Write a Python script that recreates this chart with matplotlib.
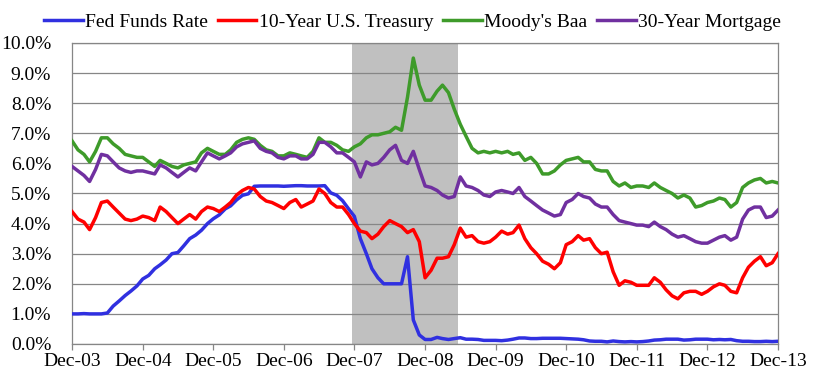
import matplotlib
matplotlib.use("Agg")
import matplotlib.pyplot as plt
import matplotlib.ticker as mticker
import pandas as pd

# Monthly dates Dec-2003 .. Dec-2013
dates = pd.date_range("2003-12-01", "2013-12-01", freq="MS")

fed_funds = [1.00,
    1.00, 1.01, 1.00, 1.00, 1.00, 1.03, 1.26, 1.43, 1.61, 1.76, 1.93, 2.16,
    2.28, 2.50, 2.63, 2.79, 3.00, 3.04, 3.26, 3.50, 3.62, 3.78, 4.00, 4.16,
    4.29, 4.49, 4.59, 4.79, 4.94, 4.99, 5.24, 5.25, 5.25, 5.25, 5.25, 5.24,
    5.25, 5.26, 5.26, 5.25, 5.25, 5.25, 5.26, 5.02, 4.94, 4.76, 4.49, 4.24,
    3.50, 3.00, 2.50, 2.20, 2.00, 2.00, 2.00, 2.00, 2.90, 0.80, 0.30, 0.15,
    0.15, 0.22, 0.18, 0.15, 0.18, 0.21, 0.16, 0.16, 0.15, 0.12, 0.12, 0.12,
    0.11, 0.13, 0.16, 0.20, 0.20, 0.18, 0.18, 0.19, 0.19, 0.19, 0.19, 0.18,
    0.17, 0.16, 0.14, 0.10, 0.09, 0.09, 0.07, 0.10, 0.08, 0.07, 0.08, 0.07,
    0.08, 0.10, 0.13, 0.14, 0.16, 0.16, 0.16, 0.13, 0.14, 0.16, 0.16, 0.16,
    0.14, 0.15, 0.14, 0.15, 0.11, 0.09, 0.09, 0.08, 0.08, 0.09, 0.08, 0.09]

treasury_10y = [4.40,
    4.15, 4.05, 3.80, 4.20, 4.70, 4.75, 4.55, 4.35, 4.15, 4.10, 4.15, 4.25,
    4.20, 4.10, 4.55, 4.40, 4.20, 4.00, 4.15, 4.30, 4.15, 4.40, 4.55, 4.50,
    4.40, 4.55, 4.70, 4.95, 5.10, 5.20, 5.15, 4.90, 4.75, 4.70, 4.60, 4.50,
    4.70, 4.80, 4.55, 4.65, 4.75, 5.15, 5.00, 4.70, 4.55, 4.55, 4.30, 4.00,
    3.75, 3.70, 3.50, 3.65, 3.90, 4.10, 4.00, 3.90, 3.70, 3.80, 3.40, 2.20,
    2.45, 2.85, 2.85, 2.90, 3.30, 3.85, 3.55, 3.60, 3.40, 3.35, 3.40, 3.55,
    3.75, 3.65, 3.70, 3.95, 3.50, 3.20, 3.00, 2.75, 2.65, 2.50, 2.70, 3.30,
    3.40, 3.60, 3.45, 3.50, 3.20, 3.00, 3.05, 2.40, 1.95, 2.10, 2.05, 1.95,
    1.95, 1.95, 2.20, 2.05, 1.80, 1.60, 1.50, 1.70, 1.75, 1.75, 1.65, 1.75,
    1.90, 2.00, 1.95, 1.75, 1.70, 2.20, 2.55, 2.75, 2.90, 2.60, 2.70, 3.00]

moodys_baa = [6.75,
    6.45, 6.30, 6.05, 6.40, 6.85, 6.85, 6.65, 6.50, 6.30, 6.25, 6.20, 6.20,
    6.05, 5.90, 6.10, 6.00, 5.90, 5.85, 5.95, 6.00, 6.05, 6.35, 6.50, 6.40,
    6.30, 6.30, 6.45, 6.70, 6.80, 6.85, 6.80, 6.60, 6.45, 6.40, 6.25, 6.25,
    6.35, 6.30, 6.25, 6.20, 6.40, 6.85, 6.70, 6.70, 6.60, 6.45, 6.40, 6.55,
    6.65, 6.85, 6.95, 6.95, 7.00, 7.05, 7.20, 7.10, 8.20, 9.50, 8.60, 8.10,
    8.10, 8.40, 8.60, 8.35, 7.80, 7.30, 6.90, 6.50, 6.35, 6.40, 6.35, 6.40,
    6.35, 6.40, 6.30, 6.35, 6.10, 6.20, 6.00, 5.65, 5.65, 5.75, 5.95, 6.10,
    6.15, 6.20, 6.05, 6.05, 5.80, 5.75, 5.75, 5.40, 5.25, 5.35, 5.20, 5.25,
    5.25, 5.20, 5.35, 5.20, 5.10, 5.00, 4.85, 4.95, 4.85, 4.55, 4.60, 4.70,
    4.75, 4.85, 4.80, 4.55, 4.70, 5.20, 5.35, 5.45, 5.50, 5.35, 5.40, 5.35]

mortgage_30y = [5.90,
    5.75, 5.60, 5.40, 5.80, 6.30, 6.25, 6.05, 5.85, 5.75, 5.70, 5.75, 5.75,
    5.70, 5.65, 5.95, 5.85, 5.70, 5.55, 5.70, 5.85, 5.75, 6.05, 6.35, 6.25,
    6.15, 6.25, 6.35, 6.55, 6.65, 6.70, 6.75, 6.50, 6.40, 6.35, 6.20, 6.15,
    6.25, 6.25, 6.15, 6.15, 6.30, 6.70, 6.70, 6.55, 6.35, 6.35, 6.20, 6.05,
    5.55, 6.05, 5.95, 6.00, 6.20, 6.45, 6.60, 6.10, 6.00, 6.40, 5.80, 5.25,
    5.20, 5.10, 4.95, 4.85, 4.90, 5.55, 5.25, 5.20, 5.10, 4.95, 4.90, 5.05,
    5.10, 5.05, 5.00, 5.20, 4.90, 4.75, 4.60, 4.45, 4.35, 4.25, 4.30, 4.70,
    4.80, 5.00, 4.90, 4.85, 4.65, 4.55, 4.55, 4.30, 4.10, 4.05, 4.00, 3.95,
    3.95, 3.90, 4.05, 3.90, 3.80, 3.65, 3.55, 3.60, 3.50, 3.40, 3.35, 3.35,
    3.45, 3.55, 3.60, 3.45, 3.55, 4.15, 4.45, 4.55, 4.55, 4.20, 4.25, 4.45]

series_names = ["Fed Funds Rate", "10-Year U.S. Treasury", "Moody's Baa", "30-Year Mortgage"]
series_colors = ["#3030E0", "#FF0000", "#3E9B2A", "#7030A0"]

recession_start = "2007-11-18"
recession_end = "2009-05-18"

tick_years = list(range(2003, 2014))
tick_labels = ["Dec-%02d" % (y % 100) for y in tick_years]

plt.rcParams["font.family"] = ["Liberation Serif", "DejaVu Serif"]
plt.rcParams["font.size"] = 14.0

fig = plt.figure(figsize=(8.18, 3.71), dpi=100)
ax = fig.add_axes([72 / 818, 27 / 371, 706 / 818, 301 / 371])

ax.axvspan(pd.Timestamp(recession_start), pd.Timestamp(recession_end),
           color="#C0C0C0", zorder=0.5, lw=0)

for vals, name, col in zip([fed_funds, treasury_10y, moodys_baa, mortgage_30y],
                           series_names, series_colors):
    ax.plot(dates, vals, color=col, lw=2.5, label=name, zorder=3,
            solid_joinstyle="round")

ax.set_xlim(pd.Timestamp("2003-12-01"), pd.Timestamp("2013-12-01"))
ax.set_ylim(0, 10)
ax.set_yticks(range(0, 11))
ax.yaxis.set_major_formatter(mticker.FuncFormatter(lambda v, p: "%.1f%%" % v))
ax.set_xticks([pd.Timestamp("%d-12-01" % y) for y in tick_years])
ax.set_xticklabels(tick_labels)

ax.grid(axis="y", color="#868686", lw=0.9, zorder=1)
ax.set_axisbelow(False)
for s in ax.spines.values():
    s.set_color("#868686")
    s.set_linewidth(0.9)
    s.set_zorder(1)

ax.tick_params(axis="y", length=0, pad=15)
ax.tick_params(axis="x", length=4, width=0.9, color="#868686", pad=2.5)

fig.legend(loc="center", bbox_to_anchor=(412.5 / 818, 1 - 22 / 371), ncol=4,
           frameon=False, handlelength=2.0, handletextpad=0.12,
           columnspacing=0.5, borderaxespad=0, borderpad=0)

fig.savefig("out.png", dpi=100)
